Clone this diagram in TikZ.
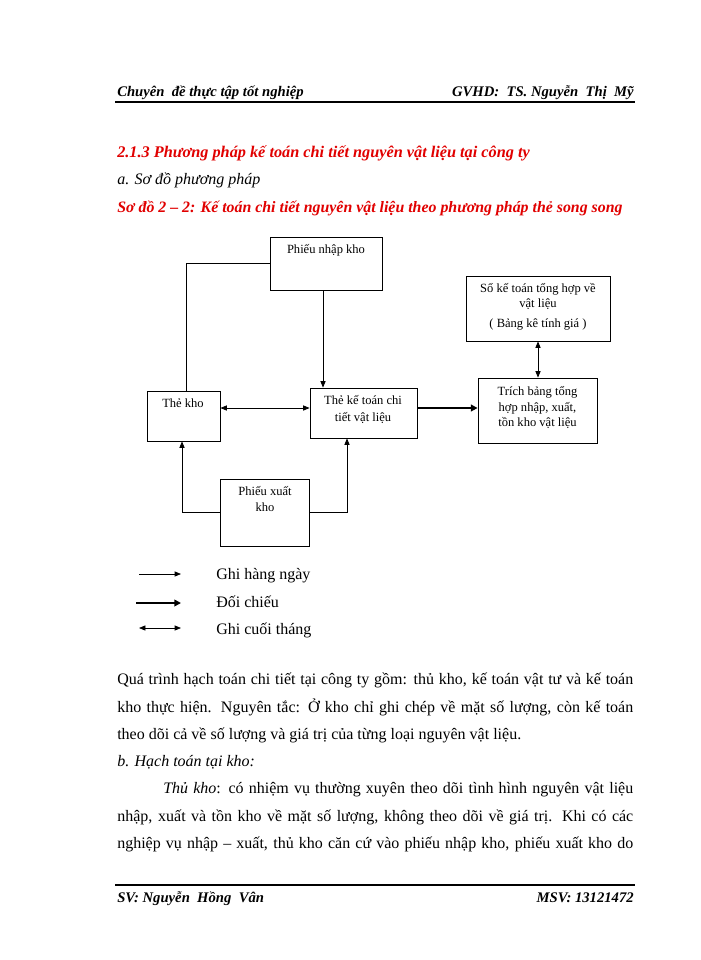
\documentclass[tikz,border=0pt]{standalone}
\usepackage{fontspec}
\setmainfont{Liberation Serif}
\usetikzlibrary{arrows.meta,fit}
\definecolor{hdred}{RGB}{225,0,0}
\tikzset{
  box/.style={draw, line width=0.6pt, inner sep=0pt},
  lbl/.style={anchor=base, inner sep=0pt, font=\fontsize{9.4}{11}\selectfont},
  conn/.style={line width=0.6pt},
  thinarrow/.style={conn, -{Triangle[length=4.8pt,width=3.8pt]}},
  dblarrow/.style={conn, {Triangle[length=4.8pt,width=3.8pt]}-{Triangle[length=4.8pt,width=3.8pt]}},
  thickarrow/.style={line width=2pt, -{Triangle[length=5pt,width=5pt]}},
  body/.style={anchor=base west, inner sep=0pt, font=\fontsize{12}{14}\selectfont},
  hdr/.style={inner sep=0pt, font=\fontsize{11}{13}\selectfont\bfseries\itshape},
  ttl/.style={anchor=base west, inner sep=0pt, text=hdred, font=\fontsize{12.2}{14}\selectfont\bfseries\itshape},
}
\begin{document}
\begin{tikzpicture}[x=0.75pt,y=-0.75pt]
\useasboundingbox (0,0) rectangle (700,960);
\fill[white] (0,0) rectangle (700,960);

% header / footer
\node[hdr, anchor=base west] (hl) at (117,96) {Chuyên\ \ đề thực tập tốt nghiệp};
\node[hdr, anchor=base east] (hr) at (634,96) {GVHD:\ \ TS.\ Nguyễn\ \ Thị\ \ Mỹ};
\draw[line width=1.5pt] (115,101.5) -- (635,101.5);
\draw[line width=1.2pt] (115,885) -- (635,885);
\node[hdr, anchor=base west] (fl) at (117,902) {SV: Nguyễn\ \ Hồng\ \ Vân};
\node[hdr, anchor=base east] (fr) at (634,902) {MSV: 13121472};

% titles
\node[ttl] (t1) at (117,157) {2.1.3 Phương pháp kế toán chi tiết nguyên vật liệu tại công ty};
\node[body, font=\fontsize{12}{14}\selectfont\itshape] (t2) at (117,184) {a. Sơ đồ phương pháp};
\node[ttl, font=\fontsize{11.9}{14}\selectfont\bfseries\itshape] (t3) at (117,212) {Sơ đồ 2 – 2: Kế toán chi tiết nguyên vật liệu theo phương pháp thẻ song song};

% boxes
\node[box, fit={(270,237) (382,290)}] (pnk) {};
\node[box, fit={(147,391) (220,441)}] (tk) {};
\node[box, fit={(310,388) (417,438)}] (tkt) {};
\node[box, fit={(220,479) (309,546)}] (px) {};
\node[box, fit={(466,276) (610,341)}] (so) {};
\node[box, fit={(478,378) (597,443)}] (tr) {};

% box texts
\node[lbl] (pnk1) at (326,253) {Phiếu nhập kho};
\node[lbl] (tk1) at (183,407) {Thẻ kho};
\node[lbl] (tkt1) at (363,404) {Thẻ kế toán chi};
\node[lbl] (tkt2) at (363,421) {tiết vật liệu};
\node[lbl] (px1) at (265,495) {Phiếu xuất};
\node[lbl] (px2) at (265,511) {kho};
\node[lbl] (so1) at (538,292) {Sổ kế toán tổng hợp về};
\node[lbl] (so2) at (538,307) {vật liệu};
\node[lbl] (so3) at (538,327) {( Bảng kê tính giá )};
\node[lbl] (tr1) at (537.5,395) {Trích bảng tổng};
\node[lbl] (tr2) at (537.5,411) {hợp nhập, xuất,};
\node[lbl] (tr3) at (537.5,426) {tồn kho vật liệu};

% connectors
\coordinate (ya) at (0,408);
\coordinate (xk) at (186,0);
\coordinate (xa) at (323,0);
\coordinate (xb) at (182,0);
\coordinate (xc) at (347,0);
\coordinate (xs) at (538,0);
\draw[conn] (pnk.west) -| (xk |- tk.north);
\draw[thinarrow] (xa |- pnk.south) -- (xa |- tkt.north);
\draw[dblarrow] (tk.east |- ya) -- (tkt.west |- ya);
\draw[thickarrow] (tkt.east |- ya) -- (tr.west |- ya);
\draw[dblarrow] (xs |- so.south) -- (xs |- tr.north);
\draw[thinarrow] (px.west) -| (xb |- tk.south);
\draw[thinarrow] (px.east) -| (xc |- tkt.south);

% legend
\coordinate (l1a) at (139,574); \coordinate (l1b) at (181,574);
\coordinate (l2a) at (136,603); \coordinate (l2b) at (181,603);
\coordinate (l3a) at (139,628); \coordinate (l3b) at (181,628);
\draw[thinarrow] (l1a) -- (l1b);
\draw[thickarrow] (l2a) -- (l2b);
\draw[dblarrow] (l3a) -- (l3b);
\node[body] (g1) at (216,579) {Ghi hàng ngày};
\node[body] (g2) at (216,607) {Đối chiếu};
\node[body] (g3) at (216,634) {Ghi cuối tháng};

% body text
\node[body] (b1) at (117,684) {\makebox[387pt][s]{Quá trình hạch toán chi tiết tại công ty gồm: thủ kho, kế toán vật tư và kế toán}};
\node[body] (b2) at (117,712) {\makebox[387pt][s]{kho thực hiện. Nguyên tắc: Ở kho chỉ ghi chép về mặt số lượng, còn kế toán}};
\node[body] (b3) at (117,739) {theo dõi cả về số lượng và giá trị của từng loại nguyên vật liệu.};
\node[body, font=\fontsize{12}{14}\selectfont\itshape] (b4) at (117,766) {b. Hạch toán tại kho:};
\node[body] (b5) at (163,793) {\makebox[352.5pt][s]{\textit{Thủ kho}: có nhiệm vụ thường xuyên theo dõi tình hình nguyên vật liệu}};
\node[body] (b6) at (117,821) {\makebox[387pt][s]{nhập, xuất và tồn kho về mặt số lượng, không theo dõi về giá trị. Khi có các}};
\node[body] (b7) at (117,848) {\makebox[387pt][s]{nghiệp vụ nhập – xuất, thủ kho căn cứ vào phiếu nhập kho, phiếu xuất kho do}};
\end{tikzpicture}
\end{document}
